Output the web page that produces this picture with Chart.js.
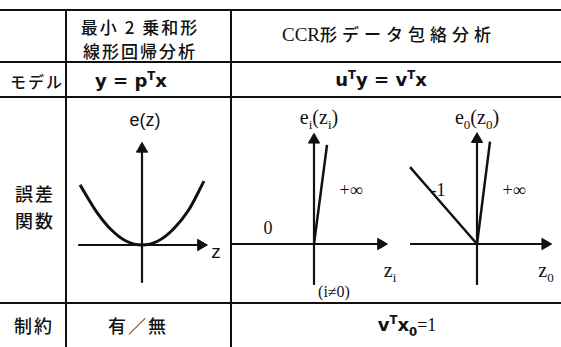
<!DOCTYPE html>
<html>
<head>
<meta charset="utf-8">
<script src="https://cdn.jsdelivr.net/npm/chart.js@4/dist/chart.umd.min.js"></script>
<style>
  body { margin: 0; background: #fff; }
  #page { position: relative; width: 561px; height: 347px; overflow: hidden; background: #fff; }
  .hl, .vl { position: absolute; background: #111; }
  .t { position: absolute; transform: translate(-50%, -50%); white-space: nowrap; color: #111; line-height: 1; }
  .jp { font-family: "Noto Sans CJK JP", sans-serif; font-weight: 500; }
  .sans { font-family: "Liberation Sans", Arial, sans-serif; }
  .serif { font-family: "Liberation Serif", "Times New Roman", serif; }
  .math { font-family: "DejaVu Sans", sans-serif; font-weight: bold; }
  sup, sub { font-size: 65%; line-height: 0; }
  canvas { position: absolute; }
</style>
</head>
<body>
<div id="page">
  <!-- table rules -->
  <div class="hl" style="left:0;top:9px;width:561px;height:2px"></div>
  <div class="hl" style="left:0;top:61px;width:561px;height:2px"></div>
  <div class="hl" style="left:0;top:96px;width:561px;height:2px"></div>
  <div class="hl" style="left:0;top:302px;width:561px;height:2px"></div>
  <div class="vl" style="left:65px;top:9px;width:2px;height:338px"></div>
  <div class="vl" style="left:230px;top:9px;width:2px;height:338px"></div>

  <!-- header -->
  <div class="t jp" style="left:140px;top:26px;font-size:17px;letter-spacing:2px">最小 2 乗和形</div>
  <div class="t jp" style="left:140px;top:50px;font-size:17px;letter-spacing:2px">線形回帰分析</div>
  <div class="t jp" style="left:389px;top:34px;font-size:17px"><span class="serif" style="font-size:19px">CCR</span><span style="letter-spacing:5px">形データ包絡分析</span></div>

  <!-- model row -->
  <div class="t jp" style="left:37px;top:81px;font-size:16px;letter-spacing:2px">モデル</div>
  <div class="t math" style="left:131px;top:81px;font-size:18px">y = p<sup>T</sup>x</div>
  <div class="t math" style="left:381px;top:80px;font-size:18px">u<sup>T</sup>y = v<sup>T</sup>x</div>

  <!-- error function row -->
  <div class="t jp" style="left:35px;top:193px;font-size:18px;letter-spacing:2px">誤差</div>
  <div class="t jp" style="left:35px;top:220px;font-size:18px;letter-spacing:2px">関数</div>

  <div class="t sans" style="left:145px;top:120px;font-size:18px">e(z)</div>
  <div class="t sans" style="left:216px;top:251px;font-size:19px">z</div>

  <div class="t serif" style="left:319px;top:117px;font-size:20px">e<sub>i</sub>(z<sub>i</sub>)</div>
  <div class="t serif" style="left:268px;top:228px;font-size:18px">0</div>
  <div class="t serif" style="left:351px;top:190px;font-size:18px">+∞</div>
  <div class="t serif" style="left:390px;top:270px;font-size:20px">z<sub>i</sub></div>
  <div class="t serif" style="left:334px;top:292px;font-size:16px">(i≠0)</div>

  <div class="t serif" style="left:477px;top:117px;font-size:20px">e<sub>0</sub>(z<sub>0</sub>)</div>
  <div class="t serif" style="left:438px;top:190px;font-size:18px">-1</div>
  <div class="t serif" style="left:514px;top:190px;font-size:18px">+∞</div>
  <div class="t serif" style="left:546px;top:270px;font-size:20px">z<sub>0</sub></div>

  <!-- constraint row -->
  <div class="t jp" style="left:34px;top:325px;font-size:18px;letter-spacing:2px">制約</div>
  <div class="t jp" style="left:138px;top:325px;font-size:18px;letter-spacing:2px">有／無</div>
  <div class="t math" style="left:407px;top:325px;font-size:18px">v<sup>T</sup>x<sub>0</sub><span class="serif" style="font-weight:normal">=1</span></div>

  <canvas id="c1"></canvas>
  <canvas id="c2"></canvas>
  <canvas id="c3"></canvas>
</div>

<script>
// least squares: e(z) = z^2
const sqZ = [-1, -0.75, -0.5, -0.25, 0, 0.25, 0.5, 0.75, 1];
const sqE = [0.97, 0.56, 0.25, 0.06, 0, 0.06, 0.25, 0.56, 1.03];
const sqXAxis = [-1.03, 0.95];
const sqYAxis = [-0.61, 1.55];

// CCR, i != 0: 0 for z<0, +inf for z>0
const ciSteepZ = [0, 0.21];
const ciSteepE = [0, 1.6];
const ciXAxis = [-1.34, 1.08];
const ciYAxis = [-0.66, 1.68];

// CCR, i = 0: slope -1 for z<0, +inf for z>0
const c0SteepZ = [0, 0.21];
const c0SteepE = [0, 1.65];
const c0NegZ = [-1.08, 0];
const c0NegE = [1.24, 0];
const c0XAxis = [-1.08, 1.10];
const c0YAxis = [-0.66, 1.69];

const INK = '#111';
const UNIT = 62; // px per data unit

function pts(xs, ys) {
  return xs.map((x, i) => ({ x: x, y: ys[i] }));
}

function curve(xs, ys, w) {
  return {
    data: pts(xs, ys), showLine: true, borderColor: INK, borderWidth: w,
    pointRadius: 0, tension: 0.4, cubicInterpolationMode: 'monotone', clip: false
  };
}

function axis(range, horizontal) {
  const d = horizontal ? pts(range, [0, 0]) : pts([0, 0], range);
  return {
    data: d, showLine: true, borderColor: INK, borderWidth: 2.2,
    pointStyle: 'triangle', pointRadius: [0, 6.5], pointRotation: horizontal ? 90 : 0,
    backgroundColor: INK, pointBorderColor: INK, pointBorderWidth: 1, clip: false
  };
}

// box = [left, top, width, height] of the canvas, origin = pixel of (0,0)
function diagram(id, box, origin, datasets) {
  const cv = document.getElementById(id);
  cv.width = box[2];
  cv.height = box[3];
  cv.style.left = box[0] + 'px';
  cv.style.top = box[1] + 'px';
  new Chart(cv, {
    type: 'scatter',
    data: { datasets: datasets },
    options: {
      responsive: false,
      animation: false,
      events: [],
      layout: { padding: 0, autoPadding: false },
      plugins: { legend: { display: false }, tooltip: { enabled: false } },
      scales: {
        x: { type: 'linear', display: false,
             min: (box[0] - origin[0]) / UNIT, max: (box[0] + box[2] - origin[0]) / UNIT },
        y: { type: 'linear', display: false,
             min: (origin[1] - box[1] - box[3]) / UNIT, max: (origin[1] - box[1]) / UNIT }
      }
    }
  });
}

diagram('c1', [68, 125, 160, 175], [142, 245], [
  axis(sqXAxis, true),
  axis(sqYAxis, false),
  curve(sqZ, sqE, 3)
]);

diagram('c2', [231, 125, 174, 175], [314, 244], [
  axis(ciXAxis, true),
  axis(ciYAxis, false),
  curve(ciSteepZ, ciSteepE, 2.5)
]);

diagram('c3', [405, 125, 156, 175], [477, 244], [
  axis(c0XAxis, true),
  axis(c0YAxis, false),
  curve(c0SteepZ, c0SteepE, 2.5),
  curve(c0NegZ, c0NegE, 2.5)
]);
</script>
</body>
</html>
